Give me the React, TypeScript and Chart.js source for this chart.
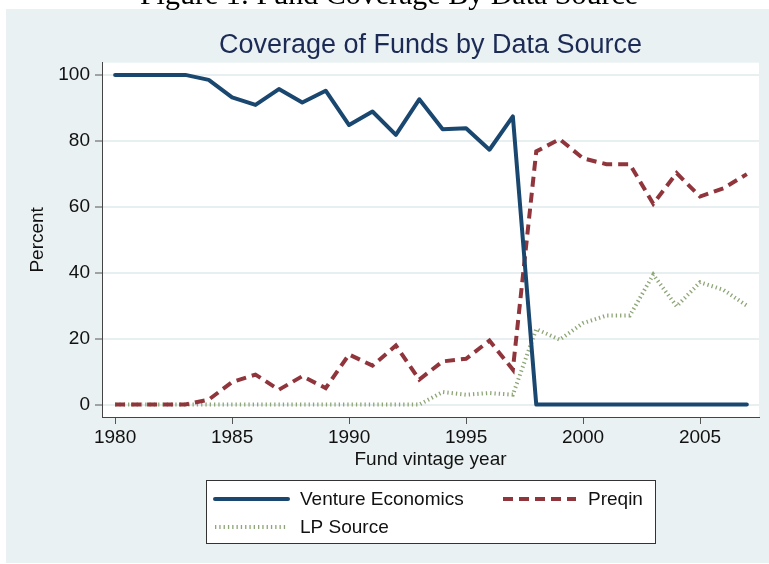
import React, { useEffect, useRef } from "react";
import { Chart, registerables } from "chart.js";

Chart.register(...registerables);

const years = [
  1980, 1981, 1982, 1983, 1984, 1985, 1986, 1987, 1988, 1989,
  1990, 1991, 1992, 1993, 1994, 1995, 1996, 1997, 1998, 1999,
  2000, 2001, 2002, 2003, 2004, 2005, 2006, 2007,
];
const ventureEconomics = [
  100, 100, 100, 100, 98.5, 93.2, 90.9, 95.7, 91.6, 95.2,
  84.8, 88.9, 81.8, 92.6, 83.5, 83.8, 77.3, 87.4, 0, 0,
  0, 0, 0, 0, 0, 0, 0, 0,
];
const preqin = [
  0, 0, 0, 0, 1.5, 6.8, 9.1, 4.5, 8.6, 5.0,
  15.2, 11.8, 17.9, 7.6, 13.1, 13.9, 19.4, 10.6, 76.8, 80.5,
  74.7, 72.9, 72.9, 60.9, 70.2, 63.1, 65.6, 69.9,
];
const lpSource = [
  0, 0, 0, 0, 0, 0, 0, 0, 0, 0,
  0, 0, 0, 0, 3.8, 3.0, 3.5, 3.0, 22.9, 19.7,
  24.7, 27.0, 27.0, 39.4, 29.8, 37.1, 34.8, 30.0,
];
const seriesLabels = ["Venture Economics", "Preqin", "LP Source"];
const xTicks = [1980, 1985, 1990, 1995, 2000, 2005];
const yTicks = [0, 20, 40, 60, 80, 100];
const chartTitle = "Coverage of Funds by Data Source";
const captionText = "Figure 1: Fund Coverage By Data Source";
const xTitle = "Fund vintage year";
const yTitle = "Percent";

const SANS = '"Liberation Sans", Arial, Helvetica, sans-serif';
const SERIF = '"Liberation Serif", "Times New Roman", serif';
const PANEL = "#eaf1f3";

const backgroundPlugin = {
  id: "stataBackground",
  beforeDraw(chart: any) {
    const { ctx, chartArea } = chart;
    ctx.save();
    ctx.fillStyle = "#ffffff";
    ctx.fillRect(0, 0, chart.width, chart.height);
    ctx.fillStyle = PANEL;
    ctx.fillRect(6, 9, chart.width - 6, chart.height - 10);
    ctx.fillStyle = "#ffffff";
    ctx.fillRect(chartArea.left, chartArea.top, chartArea.right - chartArea.left, chartArea.bottom - chartArea.top);
    // cut-off caption at the very top
    ctx.fillStyle = "#000";
    ctx.font = `30px ${SERIF}`;
    ctx.textAlign = "center";
    ctx.textBaseline = "alphabetic";
    ctx.fillText(captionText, 389, 4);
    // chart title
    ctx.fillStyle = "#1c2b55";
    ctx.font = `27px ${SANS}`;
    ctx.fillText(chartTitle, (chartArea.left + chartArea.right) / 2, 53);
    ctx.restore();
  },
};

const legendPlugin = {
  id: "stataLegend",
  afterDraw(chart: any) {
    const { ctx } = chart;
    const ds = chart.data.datasets;
    ctx.save();
    ctx.fillStyle = "#ffffff";
    ctx.fillRect(206, 480, 450, 64);
    ctx.strokeStyle = "#333";
    ctx.lineWidth = 1;
    ctx.strokeRect(206.5, 480.5, 449, 63);
    const slots = [
      { x: 215, y: 499 },
      { x: 503, y: 499 },
      { x: 215, y: 527 },
    ];
    ds.forEach((d: any, i: number) => {
      const s = slots[i];
      ctx.beginPath();
      ctx.strokeStyle = d.borderColor;
      ctx.lineWidth = d.borderWidth;
      ctx.setLineDash(d.borderDash || []);
      ctx.lineCap = d.borderCapStyle || "butt";
      ctx.moveTo(s.x, s.y);
      ctx.lineTo(s.x + 73, s.y);
      ctx.stroke();
      ctx.setLineDash([]);
      ctx.fillStyle = "#111";
      ctx.font = `19px ${SANS}`;
      ctx.textAlign = "left";
      ctx.textBaseline = "middle";
      ctx.fillText(d.label, s.x + 85, s.y + 1);
    });
    ctx.restore();
  },
};

export default function App() {
  const ref = useRef<HTMLCanvasElement | null>(null);
  useEffect(() => {
    if (!ref.current) return;
    const mk = (vals: number[]) => years.map((yr, i) => ({ x: yr, y: vals[i] }));
    const chart = new Chart(ref.current, {
      type: "line",
      data: {
        datasets: [
          {
            label: seriesLabels[0],
            data: mk(ventureEconomics),
            borderColor: "#1a476f",
            borderWidth: 4,
            borderCapStyle: "round",
            borderJoinStyle: "round",
            pointRadius: 0,
          },
          {
            label: seriesLabels[1],
            data: mk(preqin),
            borderColor: "#90353b",
            borderWidth: 4,
            borderDash: [10, 6],
            borderCapStyle: "butt",
            borderJoinStyle: "miter",
            pointRadius: 0,
          },
          {
            label: seriesLabels[2],
            data: mk(lpSource),
            borderColor: "#8ea677",
            borderWidth: 4,
            borderDash: [1.3, 3],
            borderCapStyle: "butt",
            pointRadius: 0,
          },
        ] as any,
      },
      options: {
        responsive: false,
        animation: false,
        devicePixelRatio: 1,
        layout: { padding: { left: 0, top: 62.7, right: 10, bottom: 87 } },
        plugins: {
          legend: { display: false },
          title: { display: false },
          tooltip: { enabled: false },
        },
        elements: { line: { tension: 0 }, point: { radius: 0 } },
        scales: {
          x: {
            type: "linear",
            min: 1979.44,
            max: 2007.52,
            afterBuildTicks: (s: any) => {
              s.ticks = xTicks.map((v) => ({ value: v }));
            },
            afterFit: (s: any) => {
              s.height = 60;
            },
            grid: {
              drawOnChartArea: false,
              drawTicks: true,
              tickLength: 7,
              tickColor: "#555",
              tickWidth: 1,
            },
            border: { display: true, color: "#444", width: 1 },
            ticks: {
              font: { family: SANS, size: 19 },
              color: "#111",
              padding: 2,
              maxRotation: 0,
              autoSkip: false,
              callback: (v: any) => String(v),
            },
            title: {
              display: true,
              text: xTitle,
              font: { family: SANS, size: 19 },
              color: "#111",
              padding: { top: 0, bottom: 6.3 },
            },
          },
          y: {
            type: "linear",
            min: -3.77,
            max: 103.7,
            afterBuildTicks: (s: any) => {
              s.ticks = yTicks.map((v) => ({ value: v }));
            },
            afterFit: (s: any) => {
              s.width = 102;
            },
            grid: {
              color: "#e7eff1",
              lineWidth: 2,
              drawTicks: true,
              tickLength: 7,
              tickColor: "#555",
              tickWidth: 1,
            },
            border: { display: true, color: "#444", width: 1 },
            ticks: {
              font: { family: SANS, size: 19 },
              color: "#111",
              padding: 5,
              autoSkip: false,
              callback: (v: any) => String(v),
            },
            title: {
              display: true,
              text: yTitle,
              font: { family: SANS, size: 19 },
              color: "#111",
              padding: { top: 26, bottom: 0 },
            },
          },
        },
      } as any,
      plugins: [backgroundPlugin, legendPlugin],
    });
    return () => chart.destroy();
  }, []);
  return (
    <canvas
      ref={ref}
      width={769}
      height={564}
      style={{ position: "absolute", left: 0, top: 0, width: 769, height: 564 }}
    />
  );
}
